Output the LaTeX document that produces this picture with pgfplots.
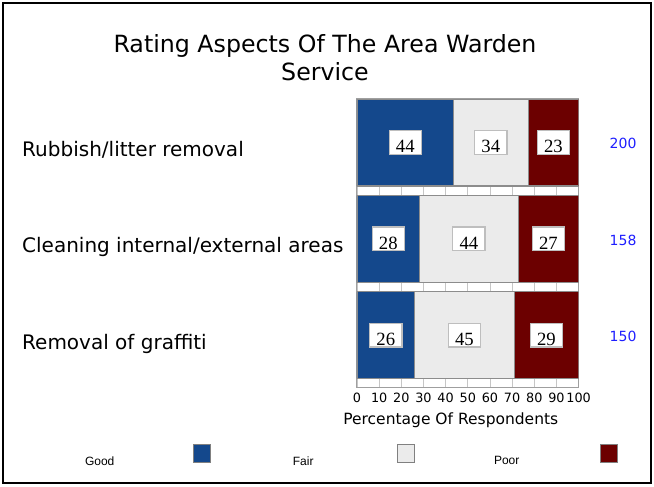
\documentclass[border=0pt]{standalone}
\usepackage{pgfplots}
\pgfplotsset{compat=1.18}
\usepackage{pgfplotstable}
\usepackage{fontspec}
\setmainfont{DejaVu Sans}
\newfontfamily\numfont{Liberation Serif}
\newfontfamily\legfont{Liberation Sans}

\definecolor{goodc}{RGB}{20,72,140}
\definecolor{fairc}{RGB}{235,235,235}
\definecolor{poorc}{RGB}{108,0,0}
\definecolor{bordc}{RGB}{140,140,140}
\definecolor{boxc}{RGB}{190,190,190}
\definecolor{numc}{RGB}{30,30,255}

\pgfplotstableread{
y good fair poor n
2 44 34 23 200
1 28 44 27 158
0 26 45 29 150
}\datatable

\tikzset{valbox/.style={anchor=center, draw=boxc, fill=white, line width=1.2pt,
  inner xsep=6.8pt, inner ysep=0pt, text height=22pt, text depth=1.8pt,
  font=\numfont\fontsize{18.7}{22}\selectfont}}

\pgfplotsset{
  common/.style={at={(357pt,99.4pt)}, anchor=south west, scale only axis,
    width=221.6pt, height=288.6pt, xmin=0, xmax=100, ymin=-0.545, ymax=2.455},
  swatch/.style={legend image code/.code={\draw[##1, draw=gray, line width=1pt] (0pt,0pt) rectangle (17pt,18pt);}}
}
\newcommand{\legtext}[1]{\makebox[60pt][c]{\raisebox{3pt}{#1}}}

\begin{document}
\begin{tikzpicture}[x=1pt,y=1pt]
\useasboundingbox (0,0) rectangle (654,487);
\draw[line width=2pt] (3,4) rectangle (651,484);
\node[anchor=base, inner sep=0pt, font=\fontsize{23.7}{28}\selectfont] at (325,434) {Rating Aspects Of The Area Warden};
\node[anchor=base, inner sep=0pt, font=\fontsize{23.7}{28}\selectfont] at (325,406) {Service};

\begin{axis}[common,
  xbar stacked, bar width=0.9,
  xtick={0,10,...,100},
  ytick={0,1,2},
  yticklabels={Removal of graffiti, Cleaning internal/external areas, Rubbish/litter removal},
  yticklabel style={anchor=base west, xshift=-335pt, yshift=-14pt, inner sep=0pt, font=\fontsize{20}{24}\selectfont},
  xticklabel style={font=\fontsize{12.8}{15}\selectfont, yshift=-2.2pt},
  /pgf/number format/assume math mode=true,
  tick style={draw=none},
  xmajorgrids, grid style={draw=gray!45, line width=0.8pt},
  axis line style={draw=gray!75, line width=1pt},
  xlabel={Percentage Of Respondents},
  xlabel style={at={(axis description cs:0.5,0)}, anchor=base, xshift=-17pt, yshift=-36.9pt, font=\fontsize{15.5}{18}\selectfont, inner sep=0pt},
  legend columns=3,
  legend plot pos=right,
  legend style={at={(axis description cs:-1.2974,-0.2405)}, anchor=west, draw=none, fill=none, inner sep=0pt,
    nodes={inner sep=0pt},
    /tikz/every odd column/.append style={column sep=63.5pt},
    /tikz/every even column/.append style={column sep=62pt},
    font=\legfont\fontsize{12}{14}\selectfont},
]
\addplot[fill=goodc, draw=bordc, line width=1.2pt, swatch] table[y=y, x expr={100*\thisrow{good}/(\thisrow{good}+\thisrow{fair}+\thisrow{poor})}] {\datatable};
\addlegendentry{\legtext{Good}}
\addplot[fill=fairc, draw=bordc, line width=1.2pt, swatch] table[y=y, x expr={100*\thisrow{fair}/(\thisrow{good}+\thisrow{fair}+\thisrow{poor})}] {\datatable};
\addlegendentry{\legtext{Fair}}
\addplot[fill=poorc, draw=bordc, line width=1.2pt, swatch] table[y=y, x expr={100*\thisrow{poor}/(\thisrow{good}+\thisrow{fair}+\thisrow{poor})}] {\datatable};
\addlegendentry{\legtext{Poor}}
\end{axis}

\begin{axis}[common, hide axis, clip=false]
\addplot[draw=none, mark=none, nodes near coords, point meta=explicit symbolic, nodes near coords style={valbox}]
  table[y=y, meta=good, x expr={50*\thisrow{good}/(\thisrow{good}+\thisrow{fair}+\thisrow{poor})}] {\datatable};
\addplot[draw=none, mark=none, nodes near coords, point meta=explicit symbolic, nodes near coords style={valbox}]
  table[y=y, meta=fair, x expr={100*(\thisrow{good}+0.5*\thisrow{fair})/(\thisrow{good}+\thisrow{fair}+\thisrow{poor})}] {\datatable};
\addplot[draw=none, mark=none, nodes near coords, point meta=explicit symbolic, nodes near coords style={valbox}]
  table[y=y, meta=poor, x expr={100*(\thisrow{good}+\thisrow{fair}+0.5*\thisrow{poor})/(\thisrow{good}+\thisrow{fair}+\thisrow{poor})}] {\datatable};
\addplot[draw=none, mark=none, nodes near coords, point meta=explicit symbolic,
  nodes near coords style={anchor=center, text=numc, inner sep=0pt, font=\fontsize{14}{16}\selectfont, xshift=44.5pt, yshift=-1pt}]
  table[y=y, meta=n, x expr=100] {\datatable};
\end{axis}
\end{tikzpicture}
\end{document}
